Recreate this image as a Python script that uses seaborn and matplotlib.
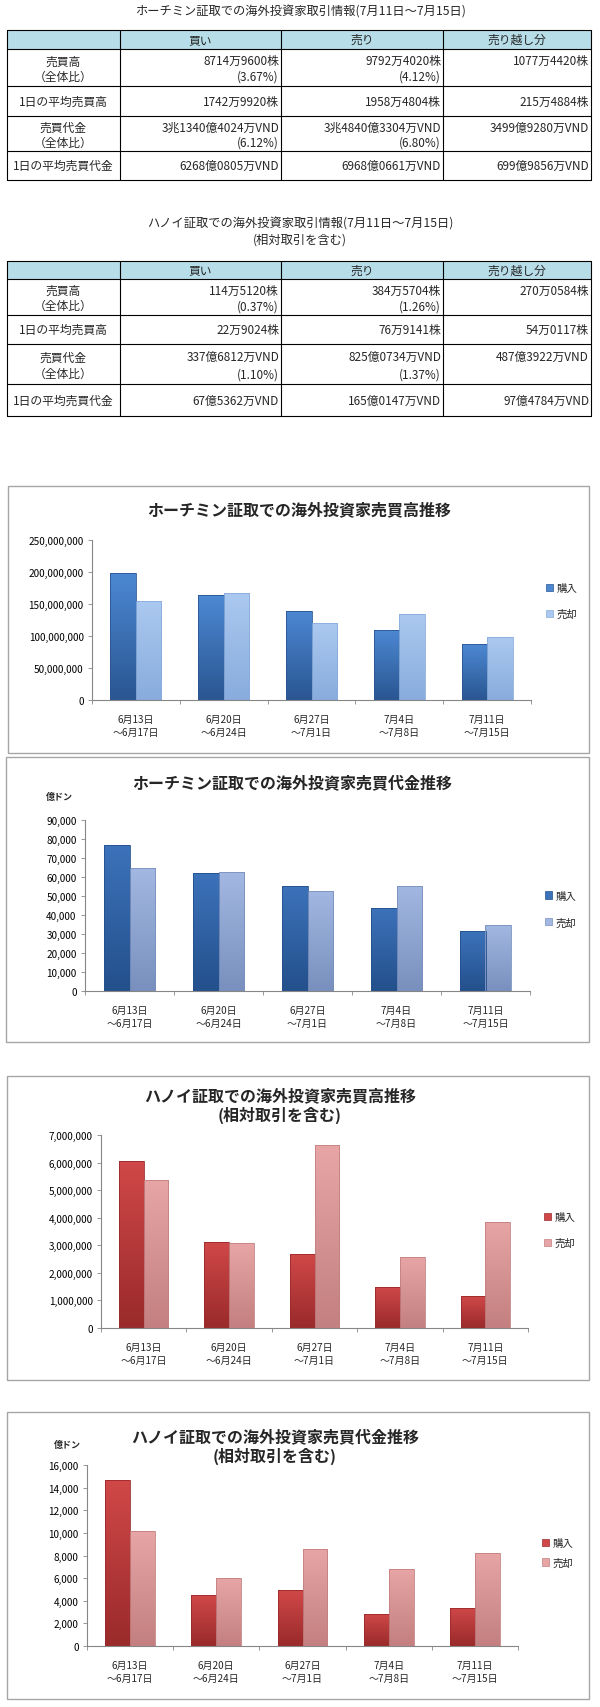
import numpy as np
import pandas as pd
import matplotlib
matplotlib.use('Agg')
import matplotlib.pyplot as plt
from matplotlib.patches import Rectangle, Patch
from matplotlib.colors import LinearSegmentedColormap
from matplotlib.ticker import FuncFormatter
import seaborn as sns

W, H = 600, 1708

# ---- table data ----
table_header = ['', '買い', '売り', '売り越し分']
row_labels = ['売買高\n（全体比）', '1日の平均売買高', '売買代金\n（全体比）', '1日の平均売買代金']

hcm_buy_cells = ['8714万9600株\n(3.67%)', '1742万9920株', '3兆1340億4024万VND\n(6.12%)', '6268億0805万VND']
hcm_sell_cells = ['9792万4020株\n(4.12%)', '1958万4804株', '3兆4840億3304万VND\n(6.80%)', '6968億0661万VND']
hcm_net_cells = ['1077万4420株', '215万4884株', '3499億9280万VND', '699億9856万VND']

hnx_buy_cells = ['114万5120株\n(0.37%)', '22万9024株', '337億6812万VND\n(1.10%)', '67億5362万VND']
hnx_sell_cells = ['384万5704株\n(1.26%)', '76万9141株', '825億0734万VND\n(1.37%)', '165億0147万VND']
hnx_net_cells = ['270万0584株', '54万0117株', '487億3922万VND', '97億4784万VND']

# ---- chart data ----
periods = ['6月13日\n～6月17日', '6月20日\n～6月24日', '6月27日\n～7月1日',
           '7月4日\n～7月8日', '7月11日\n～7月15日']
kinds = ['購入', '売却']

hcm_volume_buy = [198.0e6, 163.5e6, 139.6e6, 110.0e6, 87149600]
hcm_volume_sell = [155.0e6, 167.7e6, 120.3e6, 135.0e6, 97924020]
hcm_value_buy = [76800, 62000, 55400, 43800, 31340]
hcm_value_sell = [64500, 62600, 52700, 55400, 34840]
hnx_volume_buy = [6040000, 3120000, 2670000, 1490000, 1145120]
hnx_volume_sell = [5370000, 3070000, 6630000, 2570000, 3845704]
hnx_value_buy = [14650, 4500, 4940, 2850, 3377]
hnx_value_sell = [10200, 5970, 8590, 6820, 8251]

sns.set_theme(style='white')
plt.rcParams['font.family'] = ['Noto Sans CJK JP', 'DejaVu Sans']

fig = plt.figure(figsize=(W / 100, H / 100), dpi=100)
bg = fig.add_axes([0, 0, 1, 1])
bg.set_xlim(0, W)
bg.set_ylim(H, 0)
bg.axis('off')


def px_axes(x0, y0, x1, y1):
    return fig.add_axes([x0 / W, 1 - y1 / H, (x1 - x0) / W, (y1 - y0) / H])


col_x = [7, 120, 281, 443, 591]
tfs = 8.5


def draw_table(ys, buy, sell, net):
    top, head = ys[0], ys[1]
    bg.add_patch(Rectangle((col_x[0], top), col_x[-1] - col_x[0], head - top,
                           facecolor='#B7DDE8', edgecolor='none'))
    for y in ys:
        bg.plot([col_x[0], col_x[-1]], [y, y], color='black', lw=0.8)
    for x in col_x:
        bg.plot([x, x], [top, ys[-1]], color='black', lw=0.8)
    for j, h in enumerate(table_header):
        bg.text((col_x[j] + col_x[j + 1]) / 2, (top + head) / 2, h,
                ha='center', va='center', fontsize=tfs)
    for i in range(len(row_labels)):
        y0, y1 = ys[i + 1], ys[i + 2]
        two = '\n' in row_labels[i]
        cells = [row_labels[i], buy[i], sell[i], net[i]]
        for j, cell in enumerate(cells):
            lines = cell.split('\n')
            for k, line in enumerate(lines):
                if two:
                    y = y0 + (y1 - y0) * (0.32 if k == 0 else 0.74)
                else:
                    y = (y0 + y1) / 2
                if j == 0:
                    bg.text((col_x[0] + col_x[1]) / 2, y, line, ha='center', va='center', fontsize=tfs)
                else:
                    bg.text(col_x[j + 1] - 2, y, line, ha='right', va='center', fontsize=tfs)


bg.text(300, 12, 'ホーチミン証取での海外投資家取引情報(7月11日～7月15日)', ha='center', va='center', fontsize=8.8)
draw_table([31, 50, 87, 117, 152, 181], hcm_buy_cells, hcm_sell_cells, hcm_net_cells)

bg.text(300, 224, 'ハノイ証取での海外投資家取引情報(7月11日～7月15日)', ha='center', va='center', fontsize=8.8)
bg.text(300, 240, '(相対取引を含む)', ha='center', va='center', fontsize=8.8)
draw_table([262, 280, 316, 345, 385, 417], hnx_buy_cells, hnx_sell_cells, hnx_net_cells)


def shade_bars(ax, shades):
    # swap the flat fill for a vertical gradient, like the excel bars
    xl, yl = ax.get_xlim(), ax.get_ylim()
    grad = np.linspace(0, 1, 64).reshape(-1, 1)
    for container, (top, bottom) in zip(ax.containers, shades):
        cmap = LinearSegmentedColormap.from_list('g', [bottom, top])
        for bar in container:
            x0, y0 = bar.get_x(), bar.get_y()
            w, h = bar.get_width(), bar.get_height()
            im = ax.imshow(grad, extent=[x0, x0 + w, y0, y0 + h], origin='lower',
                           cmap=cmap, aspect='auto', zorder=bar.get_zorder(),
                           interpolation='bilinear')
            im.set_clip_path(bar)
            bar.set_facecolor('none')
            bar.set_edgecolor(bottom)
            bar.set_linewidth(0.6)
            bar.set_zorder(bar.get_zorder() + 0.1)
    ax.set_xlim(xl)
    ax.set_ylim(yl)


def bar_chart(box, plot, titles, title_x, title_ys, buy, sell, shades, ymax, ystep,
              legend_xy, legend_sp, unit_xy=None):
    bg.add_patch(Rectangle((box[0], box[1]), box[2] - box[0], box[3] - box[1],
                           facecolor='white', edgecolor='#A6A6A6', lw=1.0))
    for t, ty in zip(titles, title_ys):
        bg.text(title_x, ty, t, ha='center', va='center', fontsize=11.5, fontweight='bold')
    if unit_xy:
        bg.text(unit_xy[0], unit_xy[1], '億ドン', ha='center', va='center',
                fontsize=6.5, fontweight='bold')

    ax = px_axes(*plot)
    ax.set_facecolor('none')
    df = pd.DataFrame({'period': periods * 2,
                       'kind': [kinds[0]] * 5 + [kinds[1]] * 5,
                       'value': list(buy) + list(sell)})
    sns.barplot(data=df, x='period', y='value', hue='kind', hue_order=kinds,
                palette=[shades[0][0], shades[1][0]], width=0.58, gap=0,
                saturation=1, legend=False, ax=ax)
    ax.set_xlim(-0.5, 4.5)
    ax.set_ylim(0, ymax)
    shade_bars(ax, shades)

    ax.set_xlabel('')
    ax.set_ylabel('')
    ax.set_yticks(np.arange(0, ymax + 1, ystep))
    ax.yaxis.set_major_formatter(FuncFormatter(lambda v, p: f'{v:,.0f}'))
    ax.set_xticks(np.arange(-0.5, 5, 1), minor=True)
    ax.tick_params(axis='y', left=True, length=3, width=0.6, color='#868686',
                   labelsize=7.2, pad=3, labelcolor='black')
    ax.tick_params(axis='x', which='major', bottom=False, labelsize=7.2, pad=4)
    ax.tick_params(axis='x', which='minor', bottom=True, length=3, width=0.6, color='#868686')
    for lab in ax.get_xticklabels():
        lab.set_linespacing(1.35)
    sns.despine(ax=ax)
    for s in ['left', 'bottom']:
        ax.spines[s].set_color('#868686')
        ax.spines[s].set_linewidth(0.8)

    handles = [Patch(facecolor=shades[0][0], edgecolor=shades[0][1], lw=0.5),
               Patch(facecolor=shades[1][0], edgecolor=shades[1][1], lw=0.5)]
    ax.legend(handles, kinds, loc='center left',
              bbox_to_anchor=(legend_xy[0] / W, 1 - legend_xy[1] / H),
              bbox_transform=fig.transFigure, frameon=False, fontsize=7.5,
              handlelength=0.7, handleheight=0.7, handletextpad=0.3,
              labelspacing=legend_sp, borderpad=0, borderaxespad=0)
    return ax


blue1 = [('#4C88D2', '#2A5692'), ('#ABC9F0', '#88ACDD')]
blue2 = [('#3C72BA', '#24508C'), ('#A2B8E2', '#7990BE')]
red = [('#D04848', '#9A2A2B'), ('#E7A5A5', '#C48081')]

bar_chart((8, 487, 589, 754), (92, 541, 531, 701),
          ['ホーチミン証取での海外投資家売買高推移'], 299, [510],
          hcm_volume_buy, hcm_volume_sell, blue1, 250e6, 50e6, (546, 602), 1.5)

bar_chart((6, 758, 589, 1043), (85, 821, 530, 992),
          ['ホーチミン証取での海外投資家売買代金推移'], 292, [783],
          hcm_value_buy, hcm_value_sell, blue2, 90000, 10000, (545, 910), 1.6,
          unit_xy=(59, 797))

bar_chart((7, 1077, 589, 1381), (101, 1136, 528, 1329),
          ['ハノイ証取での海外投資家売買高推移', '(相対取引を含む)'], 280, [1096, 1115],
          hnx_volume_buy, hnx_volume_sell, red, 7e6, 1e6, (544, 1231), 1.5)

bar_chart((7, 1413, 589, 1700), (87, 1466, 518, 1647),
          ['ハノイ証取での海外投資家売買代金推移', '(相対取引を含む)'], 275, [1437, 1456],
          hnx_value_buy, hnx_value_sell, red, 16000, 2000, (542, 1554), 0.9,
          unit_xy=(67, 1445))

fig.savefig('out.png', dpi=100)
